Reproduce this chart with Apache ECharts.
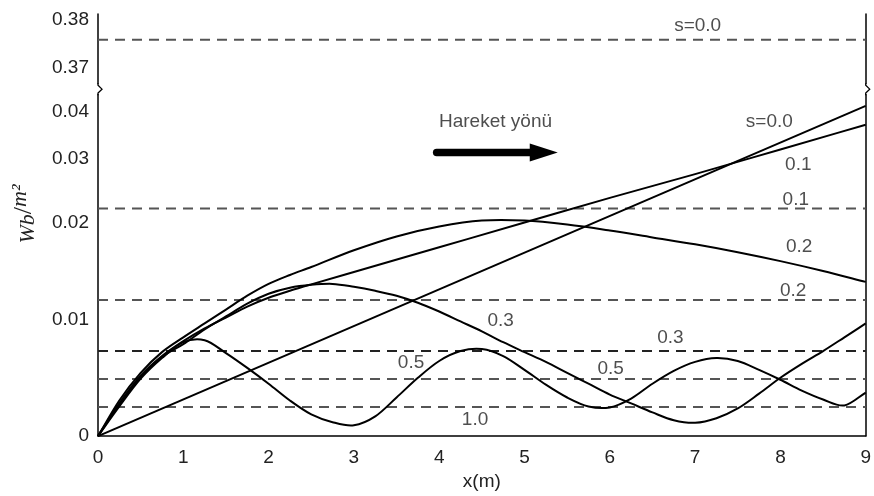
<!DOCTYPE html>
<html><head><meta charset="utf-8">
<script src="https://cdn.jsdelivr.net/npm/echarts@6/dist/echarts.min.js"></script>
<style>html,body{margin:0;padding:0;background:#fff}#c{width:874px;height:496px}</style>
</head><body><div id="c"></div>
<script>
// ---------------- data (values in Wb/m², x in m) ----------------
const yTickValues = [0, 0.01, 0.02, 0.03, 0.04, 0.37, 0.38];
const yTickLabels = ['0', '0.01', '0.02', '0.03', '0.04', '0.37', '0.38'];

const curve_s00 = [[0,0],[9,0.0413]];
const curve_s01 = [[0,0],[0.25,0.0028],[0.5,0.00517],[0.75,0.00686],[1,0.00814],[1.25,0.00924],[1.5,0.0102],[1.75,0.01133],[2,0.01224],[2.25,0.01296],[2.5,0.01362],[3,0.0149],[4,0.01745],[5,0.02],[6,0.02385],[7,0.02754],[8,0.03191],[9,0.03723]];
const curve_s02 = [[0,0],[0.25,0.00305],[0.5,0.00542],[0.75,0.0072],[1,0.00847],[1.25,0.00966],[1.5,0.01102],[1.75,0.01245],[2,0.01367],[2.25,0.01459],[2.5,0.01541],[3,0.01714],[3.5,0.01857],[4,0.01959],[4.5,0.02031],[5,0.02031],[5.5,0.0198],[6,0.01918],[6.5,0.01847],[7,0.01776],[7.5,0.01694],[8,0.01602],[8.5,0.015],[9,0.01388]];
const curve_s03 = [[0,0],[0.25,0.00271],[0.5,0.00508],[0.75,0.00678],[1,0.00788],[1.25,0.00915],[1.5,0.01031],[1.75,0.01163],[2,0.01265],[2.25,0.01327],[2.5,0.01357],[2.75,0.01367],[3,0.01337],[3.25,0.01296],[3.5,0.01245],[3.75,0.01173],[4,0.01082],[4.25,0.00983],[4.5,0.00898],[4.75,0.00805],[5,0.0072],[5.25,0.00636],[5.5,0.00542],[5.75,0.00449],[6,0.00356],[6.25,0.0028],[6.5,0.00203],[6.75,0.00136],[7,0.00114],[7.25,0.00153],[7.5,0.00237],[7.75,0.00364],[8,0.005],[8.25,0.00619],[8.5,0.00729],[8.75,0.00847],[9,0.00966]];
const curve_s05 = [[0,0],[0.25,0.00254],[0.5,0.00492],[0.75,0.00669],[1,0.00805],[1.25,0.00822],[1.5,0.00712],[1.75,0.00585],[2,0.00449],[2.25,0.00305],[2.5,0.00186],[2.75,0.00119],[3,0.00093],[3.25,0.00169],[3.5,0.00331],[3.75,0.005],[4,0.00644],[4.25,0.00729],[4.5,0.00746],[4.75,0.00686],[5,0.00568],[5.25,0.00441],[5.5,0.00331],[5.75,0.00254],[6,0.00246],[6.25,0.00322],[6.5,0.00449],[6.75,0.00559],[7,0.00636],[7.25,0.00669],[7.5,0.00644],[7.75,0.00568],[8,0.00483],[8.25,0.0039],[8.5,0.00314],[8.75,0.00263],[9,0.00373]];

const dashedLevels = [0.37583, 0.0222, 0.0120, 0.0073, 0.0049, 0.0025];
const dashedColors = ['#555', '#555', '#555', '#222', '#555', '#555'];

const labelTexts = ['s=0.0', 's=0.0', '0.1', '0.1', '0.2', '0.2', '0.3', '0.3', '0.5', '0.5', '1.0', 'Hareket yönü'];
const labelX     = [7.03, 7.87, 8.21, 8.18, 8.22, 8.15, 4.72, 6.71, 3.67, 6.01, 4.42, 4.66];
const labelY     = [0.37875, 0.03787, 0.02892, 0.02354, 0.01755, 0.01296, 0.00992, 0.00839, 0.00627, 0.00576, 0.00136, 0.03787];

const arrowFrom = [3.97, 0.03128];
const arrowTo   = [5.39, 0.03128];

// ---------------- broken, non-linear y scale ----------------
const lowerKnotValues = [0, 0.01, 0.02, 0.03, 0.04];
const lowerKnotUnits  = [0, 118, 216, 281, 328];
const upperKnotValues = [0.37, 0.38];
const upperKnotUnits  = [373, 421];
const axisMaxUnit = 427;
const breakUnit = 351;

function interp(v, xs, ys) {
  let i = 0;
  while (i < xs.length - 2 && v > xs[i + 1]) i++;
  return ys[i] + (v - xs[i]) * (ys[i + 1] - ys[i]) / (xs[i + 1] - xs[i]);
}
function toAxis(v) {
  if (v >= 0.2) return interp(v, upperKnotValues, upperKnotUnits);
  return interp(v, lowerKnotValues, lowerKnotUnits);
}
const tr = arr => arr.map(p => [p[0], toAxis(p[1])]);

const FONT = '"Liberation Sans", Arial, sans-serif';
const tickUnits = yTickValues.map(toAxis);

// smooth curve through the data points (cubic Hermite in pixel space, via the axis scales)
function curveSeries(points) {
  const data = tr(points);
  return {
    type: 'custom', silent: true, z: 3, data: data,
    renderItem: function (params, api) {
      if (params.dataIndex !== 0) return null;
      const p = data.map(d => api.coord(d));
      const n = p.length;
      const slope = i => {
        if (i === 0) return (p[1][1] - p[0][1]) / (p[1][0] - p[0][0]);
        if (i === n - 1) return (p[n - 1][1] - p[n - 2][1]) / (p[n - 1][0] - p[n - 2][0]);
        return (p[i + 1][1] - p[i - 1][1]) / (p[i + 1][0] - p[i - 1][0]);
      };
      let d = 'M' + p[0][0] + ',' + p[0][1];
      for (let i = 0; i < n - 1; i++) {
        const dx = (p[i + 1][0] - p[i][0]) / 3;
        const m0 = slope(i), m1 = slope(i + 1);
        d += ' C' + (p[i][0] + dx) + ',' + (p[i][1] + m0 * dx) + ' ' +
             (p[i + 1][0] - dx) + ',' + (p[i + 1][1] - m1 * dx) + ' ' +
             p[i + 1][0] + ',' + p[i + 1][1];
      }
      return { type: 'path', shape: { pathData: d }, style: { stroke: '#000', lineWidth: 2, fill: 'none' } };
    }
  };
}

const series = [];
dashedLevels.forEach((v, i) => {
  series.push({
    type: 'line', data: tr([[0, v], [9, v]]), symbol: 'none', silent: true,
    lineStyle: { type: [10, 7], color: dashedColors[i], width: 2 }, z: 2
  });
});
series.push({
  type: 'line', data: tr(curve_s00), symbol: 'none', silent: true,
  lineStyle: { color: '#000', width: 2 }, z: 3
});
[curve_s01, curve_s02, curve_s03, curve_s05].forEach(c => series.push(curveSeries(c)));
series.push({
  type: 'scatter', symbolSize: 1, itemStyle: { color: 'rgba(0,0,0,0)' }, silent: true, z: 5,
  data: labelTexts.map((t, i) => ({ name: t, value: [labelX[i], toAxis(labelY[i])] })),
  label: { show: true, position: 'inside', formatter: p => p.name, color: '#222', fontSize: 19, fontFamily: FONT }
});
series.push({
  type: 'custom', silent: true, z: 6, clip: false, data: [[0, 0]],
  renderItem: function (params, api) {
    const a = api.coord([arrowFrom[0], toAxis(arrowFrom[1])]);
    const b = api.coord([arrowTo[0], toAxis(arrowTo[1])]);
    const headLen = 28, headHalf = 9;
    const children = [
      { type: 'line', shape: { x1: a[0], y1: a[1], x2: b[0] - headLen + 2, y2: b[1] },
        style: { stroke: '#000', lineWidth: 7.5, lineCap: 'round' } },
      { type: 'polygon', shape: { points: [[b[0] - headLen, b[1] - headHalf], [b[0], b[1]], [b[0] - headLen, b[1] + headHalf]] },
        style: { fill: '#000' } }
    ];
    [0, 9].forEach(xv => {
      const p = api.coord([xv, breakUnit]);
      children.push({ type: 'rect', shape: { x: p[0] - 3, y: p[1] - 5, width: 6, height: 10 }, style: { fill: '#fff' } });
      children.push({ type: 'polyline', shape: { points: [[p[0], p[1] - 6], [p[0], p[1] - 4], [p[0] + 4, p[1]], [p[0], p[1] + 4], [p[0], p[1] + 6]] },
        style: { stroke: '#000', lineWidth: 1.3, fill: null } });
    });
    return { type: 'group', children: children };
  }
});

const chart = echarts.init(document.getElementById('c'), null, { renderer: 'canvas' });
chart.setOption({
  animation: false,
  backgroundColor: '#fff',
  grid: { left: 98, right: 5, top: 14, bottom: 55 },
  xAxis: {
    type: 'value', min: 0, max: 9, interval: 1,
    axisLine: { lineStyle: { color: '#000', width: 1.5 } },
    axisTick: { show: false }, splitLine: { show: false },
    axisLabel: { color: '#222', fontSize: 19, fontFamily: FONT, margin: 12 },
    name: 'x(m)', nameLocation: 'middle', nameGap: 35,
    nameTextStyle: { color: '#222', fontSize: 19, fontFamily: FONT }
  },
  yAxis: [{
    type: 'value', min: 0, max: axisMaxUnit, position: 'left',
    axisLine: { show: true, lineStyle: { color: '#000', width: 1.5 } },
    axisTick: { show: false }, splitLine: { show: false },
    axisLabel: {
      customValues: tickUnits, color: '#222', fontSize: 19, fontFamily: FONT, margin: 9,
      formatter: function (val) {
        let best = 0;
        tickUnits.forEach((u, i) => { if (Math.abs(u - val) < Math.abs(tickUnits[best] - val)) best = i; });
        return yTickLabels[best];
      }
    }
  }, {
    type: 'value', min: 0, max: axisMaxUnit, position: 'right',
    axisLine: { show: true, lineStyle: { color: '#000', width: 1.5 } },
    axisTick: { show: false }, splitLine: { show: false }, axisLabel: { show: false }
  }],
  graphic: [{
    type: 'text', x: 24, y: 214, rotation: Math.PI / 2,
    style: {
      text: '{a|Wb}{s|/}{b|m²}',
      align: 'center', verticalAlign: 'middle',
      rich: {
        a: { font: 'italic 22px "Liberation Serif", serif', fill: '#222', verticalAlign: 'bottom', lineHeight: 30 },
        s: { font: '26px "Liberation Serif", serif', fill: '#222', lineHeight: 30 },
        b: { font: 'italic 22px "Liberation Serif", serif', fill: '#222', verticalAlign: 'top', lineHeight: 30 }
      }
    }
  }],
  series: series
});
</script>
</body></html>
